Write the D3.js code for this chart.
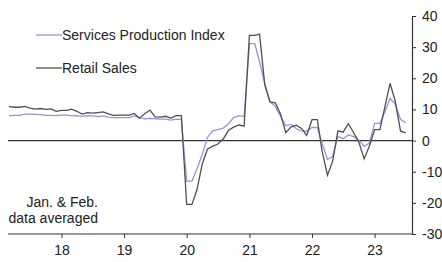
<!DOCTYPE html>
<html lang="en">
<head>
  <meta charset="UTF-8">
  <title>Services Production Index vs Retail Sales</title>
  <script src="https://cdn.jsdelivr.net/npm/d3@7/dist/d3.min.js"></script>
  <style>
    body { margin: 0; background: #fff; }
    text { font-family: "Liberation Sans", Arial, sans-serif; fill: #222; }
  </style>
</head>
<body>
  <svg width="442" height="262"></svg>
<script>
  // monthly, Mar 2017 .. Jul 2023 (Jan & Feb share the averaged value)
  const firstMonth = "2017-03";
  const lastMonth = "2023-07";

  const retailSales = [
    10.9, 10.7, 10.7, 11.0, 10.4, 10.1, 10.3, 10.0, 10.2, 9.4,
    9.7, 9.7, 10.1, 9.4, 8.5, 9.0, 8.8, 9.0, 9.2, 8.6, 8.1, 8.2,
    8.2, 8.2, 8.7, 7.2, 8.6, 9.8, 7.6, 7.5, 7.8, 7.2, 8.0, 8.0,
    -20.5, -20.5, -15.8, -7.5, -2.8, -1.8, -1.1, 0.5, 3.3, 4.3, 5.0, 4.6,
    33.8, 33.8, 34.2, 17.7, 12.4, 12.1, 8.5, 2.5, 4.4, 4.9, 3.9, 1.7,
    6.7, 6.7, -3.5, -11.1, -6.7, 3.1, 2.7, 5.4, 2.5, -0.5, -5.9, -1.8,
    3.5, 3.5, 10.6, 18.4, 12.7, 3.1, 2.5
  ];

  const servicesIndex = [
    8.0, 8.1, 8.1, 8.5, 8.5, 8.4, 8.3, 8.1, 8.1, 8.0,
    8.2, 8.2, 7.9, 8.0, 7.8, 8.0, 7.9, 7.7, 7.9, 7.5, 7.4, 7.4,
    7.4, 7.4, 7.9, 7.4, 7.0, 7.1, 7.0, 6.9, 6.9, 6.6, 6.9, 6.8,
    -13.0, -13.0, -9.1, -4.5, 1.0, 3.1, 3.5, 4.0, 5.4, 7.4, 8.0, 7.7,
    31.1, 31.1, 25.3, 18.2, 12.5, 10.9, 7.8, 4.8, 5.2, 3.8, 3.1, 3.0,
    4.2, 4.2, -0.9, -6.1, -5.1, 1.3, 0.6, 1.8, 1.3, 0.1, -1.9, -0.8,
    5.5, 5.5, 9.2, 13.5, 11.7, 6.8, 5.7
  ];

  const yearTicks = [2018, 2019, 2020, 2021, 2022, 2023];
  const yTicks = [40, 30, 20, 10, 0, -10, -20, -30];

  const parseMonth = d3.timeParse("%Y-%m");
  const months = d3.timeMonth.range(parseMonth(firstMonth),
    d3.timeMonth.offset(parseMonth(lastMonth), 1));

  const svg = d3.select("svg");
  const plot = { left: 9, right: 412, top: 16, bottom: 234 };
  const fontSize = "14px";

  const x = d3.scaleTime()
    .domain([parseMonth(firstMonth), new Date(2023, 7, 7)])
    .range([plot.left, plot.right]);

  const y = d3.scaleLinear()
    .domain([-30, 40])
    .range([plot.bottom, plot.top]);

  // zero line
  svg.append("line")
    .attr("x1", plot.left - 1).attr("x2", plot.right)
    .attr("y1", y(0)).attr("y2", y(0))
    .attr("stroke", "#333").attr("stroke-width", 1.2);

  // series
  const line = d3.line()
    .x((d, i) => x(months[i]))
    .y(d => y(d));

  svg.append("path")
    .datum(servicesIndex)
    .attr("fill", "none")
    .attr("stroke", "#9393e0")
    .attr("stroke-width", 1.3)
    .attr("d", line);

  svg.append("path")
    .datum(retailSales)
    .attr("fill", "none")
    .attr("stroke", "#505050")
    .attr("stroke-width", 1.3)
    .attr("d", line);

  // bottom axis
  const xAxis = svg.append("g")
    .attr("transform", "translate(0," + plot.bottom + ")")
    .call(d3.axisBottom(x)
      .tickValues(yearTicks.map(yr => new Date(yr, 0, 1)))
      .tickFormat(d3.timeFormat("%y"))
      .tickSizeInner(4).tickSizeOuter(0).tickPadding(7));
  xAxis.select(".domain").attr("d", "M" + (plot.left - 1) + ",0H" + plot.right)
    .attr("stroke", "#333").attr("stroke-width", 1.2);
  xAxis.selectAll(".tick line").attr("stroke", "#333");
  xAxis.selectAll(".tick text")
    .attr("font-size", fontSize).attr("font-family", null).attr("fill", "#222");

  // right axis
  const yAxis = svg.append("g")
    .attr("transform", "translate(" + plot.right + ",0)")
    .call(d3.axisRight(y)
      .tickValues(yTicks)
      .tickSizeInner(4).tickSizeOuter(0).tickPadding(6));
  yAxis.select(".domain").attr("stroke", "#333").attr("stroke-width", 1.2);
  yAxis.selectAll(".tick line").attr("stroke", "#333");
  yAxis.selectAll(".tick text")
    .attr("font-size", fontSize).attr("font-family", null).attr("fill", "#222")
    .text(d => d < 0 ? "-" + Math.abs(d) : d);

  // legend
  const legend = [
    { name: "Services Production Index", color: "#9393e0", y: 35 },
    { name: "Retail Sales", color: "#505050", y: 68 }
  ];
  const lg = svg.append("g").selectAll("g")
    .data(legend)
    .join("g")
    .attr("transform", d => "translate(0," + d.y + ")");
  lg.append("line")
    .attr("x1", 36).attr("x2", 62)
    .attr("stroke", d => d.color).attr("stroke-width", 1.3);
  lg.append("text")
    .attr("x", 62).attr("dy", "0.36em")
    .attr("font-size", fontSize)
    .text(d => d.name);

  // note
  svg.append("text")
    .attr("text-anchor", "end")
    .attr("font-size", fontSize)
    .selectAll("tspan")
    .data(["Jan. & Feb.", "data averaged"])
    .join("tspan")
    .attr("x", 98)
    .attr("y", (d, i) => 207 + i * 16)
    .text(d => d);
</script>
</body>
</html>
